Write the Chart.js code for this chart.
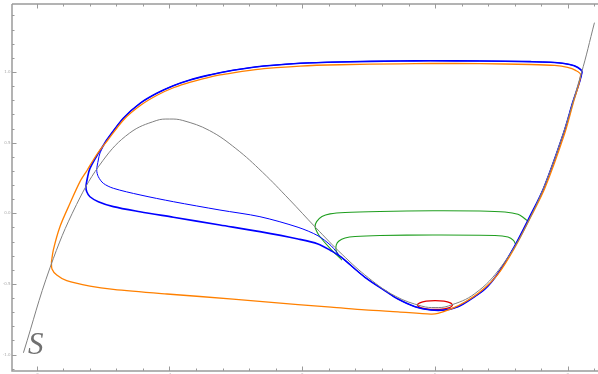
<!DOCTYPE html>
<html>
<head>
<meta charset="utf-8">
<script src="https://cdn.jsdelivr.net/npm/chart.js@4"></script>
<style>
  html, body { margin: 0; padding: 0; background: #fff; }
  #wrap { width: 598px; height: 374px; }
</style>
</head>
<body>
<div id="wrap"><canvas id="phase" width="598" height="374"></canvas></div>
<script>
// critical manifold S (gray)
const sCurve = [
  [-2.10, -0.987], [-1.9, -0.386], [-1.7, 0.062], [-1.5, 0.375], [-1.3, 0.568],
  [-1.1, 0.656], [-1.0, 0.667], [-0.9, 0.657], [-0.7, 0.586], [-0.5, 0.458],
  [-0.3, 0.291], [-0.1, 0.1], [0.1, -0.1], [0.3, -0.291], [0.5, -0.458],
  [0.7, -0.586], [0.9, -0.657], [1.0, -0.667], [1.1, -0.656], [1.3, -0.568],
  [1.5, -0.375], [1.7, -0.062], [1.9, 0.386], [2.1, 0.987], [2.2, 1.349]
];

// relaxation cycle (orange)
const orangeCycle = [
  [-1.889, -0.345], [-1.875, -0.260], [-1.825, -0.095], [-1.749, 0.071], [-1.674, 0.224],
  [-1.621, 0.303], [-1.574, 0.377], [-1.523, 0.448], [-1.467, 0.515], [-1.343, 0.664],
  [-1.215, 0.766], [-1.090, 0.837], [-0.966, 0.890], [-0.842, 0.929], [-0.718, 0.959],
  [-0.620, 0.979], [-0.522, 0.994], [-0.394, 1.011], [-0.266, 1.025], [-0.017, 1.042],
  [0.284, 1.051], [0.736, 1.058], [0.966, 1.060], [1.335, 1.059], [1.719, 1.053],
  [1.900, 1.046], [1.998, 1.032], [2.058, 1.011], [2.096, 0.979], [2.040, 0.780],
  [1.977, 0.568], [1.827, 0.179], [1.720, -0.026], [1.602, -0.239], [1.474, -0.430],
  [1.346, -0.550], [1.225, -0.628], [1.120, -0.677], [1.022, -0.708], [0.969, -0.713],
  [0.721, -0.698], [0.472, -0.684], [0.216, -0.664], [-0.032, -0.647], [-0.522, -0.607],
  [-1.019, -0.571], [-1.423, -0.538], [-1.599, -0.515], [-1.774, -0.477], [-1.849, -0.437],
  [-1.885, -0.394], [-1.889, -0.345]
];

// shared part of the two blue orbits: top-left arc, across, down the right branch, through the valley
const blueShared = [
  [-1.473, 0.519], [-1.348, 0.673], [-1.222, 0.778], [-1.096, 0.849], [-0.971, 0.903],
  [-0.846, 0.943], [-0.720, 0.974], [-0.620, 0.995], [-0.522, 1.012], [-0.394, 1.030],
  [-0.266, 1.044], [-0.017, 1.062], [0.284, 1.071], [0.736, 1.078], [0.966, 1.079],
  [1.335, 1.078], [1.719, 1.073], [1.900, 1.067], [2.013, 1.053], [2.075, 1.032],
  [2.106, 0.999], [2.035, 0.780], [1.968, 0.568], [1.818, 0.179], [1.712, -0.026],
  [1.595, -0.239], [1.470, -0.430], [1.376, -0.536], [1.270, -0.607], [1.172, -0.661],
  [1.075, -0.684], [0.969, -0.684], [0.849, -0.661], [0.721, -0.607], [0.623, -0.548],
  [0.472, -0.453], [0.291, -0.309]
];
// upper return branch (thin blue), ends on the arc
const blueUpper = [
  [0.216, -0.229], [0.118, -0.159], [-0.032, -0.099], [-0.319, -0.024], [-0.620, 0.023],
  [-0.971, 0.082], [-1.222, 0.130], [-1.423, 0.177], [-1.498, 0.212], [-1.536, 0.259],
  [-1.548, 0.306], [-1.536, 0.377], [-1.523, 0.427], [-1.473, 0.519]
];
// lower return branch (thick blue), ends on the arc
const blueLower = [
  [0.216, -0.265], [0.118, -0.217], [-0.032, -0.182], [-0.319, -0.130], [-0.620, -0.083],
  [-0.971, -0.028], [-1.222, 0.011], [-1.423, 0.047], [-1.536, 0.082], [-1.599, 0.117],
  [-1.623, 0.152], [-1.629, 0.188], [-1.616, 0.259], [-1.599, 0.318], [-1.539, 0.420],
  [-1.473, 0.519]
];

// green orbits
const greenOuter = [
  [1.702, -0.059], [1.669, -0.033], [1.624, -0.007], [1.526, 0.009], [1.338, 0.016],
  [0.984, 0.018], [0.585, 0.013], [0.322, 0.006], [0.209, -0.004], [0.148, -0.023],
  [0.108, -0.059], [0.096, -0.095], [0.111, -0.132], [0.133, -0.166], [0.209, -0.248],
  [0.284, -0.318]
];
const greenInner = [
  [1.609, -0.224], [1.590, -0.192], [1.549, -0.168], [1.451, -0.157], [0.984, -0.154],
  [0.585, -0.157], [0.397, -0.164], [0.322, -0.175], [0.276, -0.196], [0.256, -0.224],
  [0.254, -0.260], [0.271, -0.295], [0.297, -0.331]
];

// small red loop at the lower fold
const redLoop = [
  [1.133, -0.649], [1.115, -0.634], [1.067, -0.622], [1.0, -0.618], [0.933, -0.622],
  [0.885, -0.634], [0.867, -0.649], [0.885, -0.665], [0.933, -0.676], [1.0, -0.680],
  [1.067, -0.676], [1.115, -0.665], [1.133, -0.649]
];

const xTickLabels = ['-2', '-1', '0', '1', '2'];
const xTickValues = [-2, -1, 0, 1, 2];
const yTickLabels = ['-1.0', '-0.5', '0.0', '0.5', '1.0'];
const yTickValues = [-1, -0.5, 0, 0.5, 1];

const toPts = arr => arr.map(p => ({ x: p[0], y: p[1] }));
const blueA = blueShared.concat(blueUpper);
const blueB = blueShared.concat(blueLower);

function curve(data, color, width, tension) {
  return {
    data: toPts(data),
    showLine: true,
    borderColor: color,
    borderWidth: width,
    pointRadius: 0,
    tension: tension,
    fill: false
  };
}

// frame, inward ticks, tiny labels, the S tag
const framePlugin = {
  id: 'frame',
  afterDatasetsDraw(chart) {
    const { ctx, chartArea: a, scales: { x, y } } = chart;
    ctx.save();
    ctx.strokeStyle = '#9a9a9a';
    ctx.lineWidth = 1.5;
    ctx.beginPath();
    ctx.moveTo(a.left, a.top);
    ctx.lineTo(a.right + 2, a.top);
    ctx.moveTo(a.left, a.top);
    ctx.lineTo(a.left, a.bottom);
    ctx.lineTo(a.right + 2, a.bottom);
    ctx.stroke();

    ctx.lineWidth = 1;
    ctx.beginPath();
    for (let i = -11; i <= 11; i++) {
      const v = i * 0.2;
      const px = Math.round(x.getPixelForValue(v)) + 0.5;
      if (px < a.left || px > a.right) continue;
      const len = (i % 5 === 0) ? 4.5 : 2.5;
      ctx.moveTo(px, a.top);
      ctx.lineTo(px, a.top + len);
      ctx.moveTo(px, a.bottom);
      ctx.lineTo(px, a.bottom - len);
    }
    for (let i = -11; i <= 14; i++) {
      const v = i * 0.1;
      const py = Math.round(y.getPixelForValue(v)) + 0.5;
      if (py < a.top || py > a.bottom) continue;
      const len = (i % 5 === 0) ? 4.5 : 2.5;
      ctx.moveTo(a.left, py);
      ctx.lineTo(a.left + len, py);
    }
    ctx.stroke();

    ctx.fillStyle = '#aaaaaa';
    ctx.font = '4px "DejaVu Sans"';
    ctx.textAlign = 'right';
    ctx.textBaseline = 'middle';
    yTickValues.forEach((v, i) => {
      ctx.fillText(yTickLabels[i], a.left - 1.5, y.getPixelForValue(v));
    });
    ctx.textAlign = 'center';
    ctx.textBaseline = 'top';
    xTickValues.forEach((v, i) => {
      ctx.fillText(xTickLabels[i], x.getPixelForValue(v), a.bottom + 2);
    });

    ctx.fillStyle = '#707070';
    ctx.font = 'italic 31px "Liberation Serif"';
    ctx.textAlign = 'left';
    ctx.textBaseline = 'alphabetic';
    ctx.fillText('S', 28, 354);
    ctx.restore();
  }
};

new Chart(document.getElementById('phase'), {
  type: 'scatter',
  data: {
    datasets: [
      curve(sCurve, '#808080', 1.0, 0.4),
      curve(orangeCycle, '#ff8000', 1.3, 0.3),
      curve(blueB, '#0000ff', 1.6, 0.3),
      curve(blueA, '#0000ff', 1.0, 0.3),
      curve(greenOuter, '#1f9e1f', 1.1, 0.3),
      curve(greenInner, '#1f9e1f', 1.1, 0.3),
      curve(redLoop, '#e00000', 1.3, 0.4)
    ]
  },
  options: {
    responsive: false,
    animation: false,
    layout: { padding: { left: 12, top: 4, right: 0, bottom: 3 } },
    plugins: { legend: { display: false }, tooltip: { enabled: false } },
    scales: {
      x: { type: 'linear', display: false, min: -2.186, max: 2.2267 },
      y: { type: 'linear', display: false, min: -1.116, max: 1.481 }
    }
  },
  plugins: [framePlugin]
});
</script>
</body>
</html>
